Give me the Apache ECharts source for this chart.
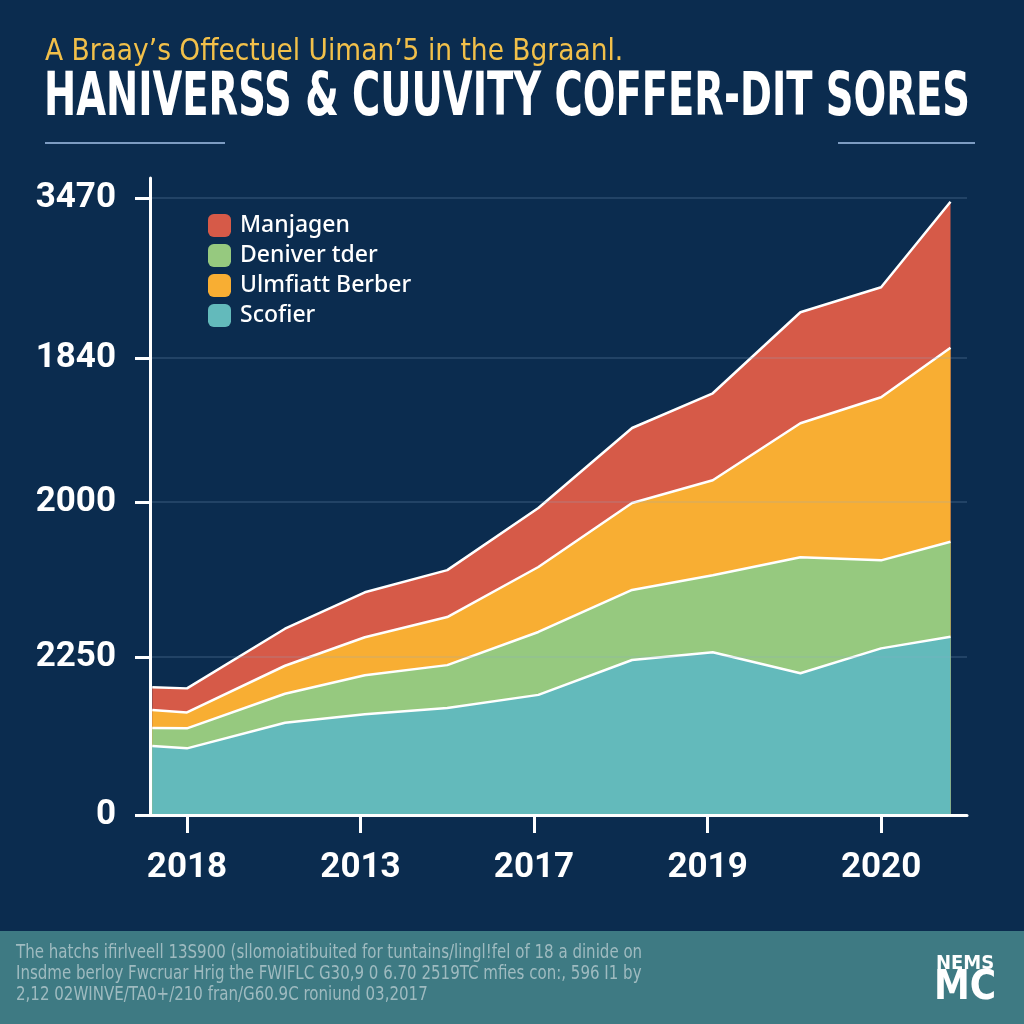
<!DOCTYPE html>
<html>
<head>
<meta charset="utf-8">
<script src="https://cdn.jsdelivr.net/npm/echarts@6/dist/echarts.min.js"></script>
<style>
html,body{margin:0;padding:0;background:#0B2C4F;}
#chart{width:1024px;height:1024px;}
</style>
</head>
<body>
<div id="chart"></div>
<script>
// ---- data ----
const xPositions = [0.6, 1, 2.13, 3.05, 4, 5.05, 6.13, 7.06, 8.07, 9, 9.8];
const xTickValues = [1, 3, 5, 7, 9];
const xTickLabels = ['2018', '2013', '2017', '2019', '2020'];
const yTickValues = [0, 1020, 2020, 2950, 3980];
const yTickLabels = ['0', '2250', '2000', '1840', '3470'];
const seriesNames = ['Scofier', 'Deniver tder', 'Ulmfiatt Berber', 'Manjagen']; // bottom -> top
const scofier   = [445, 430, 595, 650, 690, 775, 1000, 1050, 915, 1075, 1150];
const deniver   = [116, 129, 187, 252, 277, 406, 452, 497, 748, 568, 613];
const ulmfiatt  = [116, 103, 181, 245, 310, 419, 561, 613, 865, 1052, 1252];
const manjagen  = [148, 155, 239, 290, 303, 381, 484, 561, 716, 710, 942];
const legendOrder = ['Manjagen', 'Deniver tder', 'Ulmfiatt Berber', 'Scofier'];
const subtitleText = "A Braay\u2019s Offectuel Uiman\u20195 in the Bgraanl.";
const titleText = 'HANIVERSS & CUUVITY COFFER-DIT SORES';
const footerLines = [
  'The hatchs ifirlveell 13S900 (sllomoiatibuited for tuntains/lingl!fel of 18 a dinide on',
  'Insdme berloy Fwcruar Hrig the FWIFLC G30,9 0 6.70 2519TC mfies con:, 596 I1 by',
  '2,12 02WINVE/TA0+/210 fran/G60.9C roniund 03,2017'
];
const colors = ['#63BABB', '#96C97F', '#F8AE33', '#D65A48'];

const cond = '"DejaVu Sans Condensed", "DejaVu Sans", sans-serif';
const axisFont = 'Roboto, "Liberation Sans", sans-serif';

// stack the layers (bottom -> top) so each area is drawn from its cumulative top
const layers = [scofier, deniver, ulmfiatt, manjagen];
const cumulative = [];
layers.forEach((vals, i) => {
  cumulative.push(vals.map((v, j) => v + (i > 0 ? cumulative[i - 1][j] : 0)));
});

const series = [];
for (let i = layers.length - 1; i >= 0; i--) {
  series.push({
    name: seriesNames[i], type: 'line', symbol: 'none', smooth: false,
    data: cumulative[i].map((v, j) => [xPositions[j], v]),
    itemStyle: { color: colors[i] },
    lineStyle: { color: '#FFFFFF', width: 2.5 },
    areaStyle: { color: colors[i], opacity: 1 },
    z: 2
  });
}

const chart = echarts.init(document.getElementById('chart'), null, {renderer:'canvas'});
const option = {
  backgroundColor: '#0B2C4F',
  animation: false,
  legend: {
    data: legendOrder, orient: 'vertical', left: 203, top: 209,
    itemWidth: 23, itemHeight: 23, itemGap: 7, icon: 'roundRect',
    textStyle: { color: '#FFFFFF', fontSize: 23, fontFamily: '"Noto Sans", sans-serif', fontWeight: 500, padding:[0,0,0,4] }
  },
  grid: { left: 150, right: 57, top: 178, bottom: 209 },
  xAxis: {
    type: 'value', min: 0.574, max: 9.99, z: 10,
    axisLine: { show: true, lineStyle: { color: '#FFFFFF', width: 3 } },
    axisTick: { show: true, customValues: xTickValues, length: 18, lineStyle: { color: '#FFFFFF', width: 3 } },
    axisLabel: { customValues: xTickValues, margin: 36, color: '#FFFFFF', fontSize: 35, fontWeight: 'bold', fontFamily: axisFont,
      formatter: v => xTickLabels[xTickValues.indexOf(v)] },
    splitLine: { show: false }
  },
  yAxis: {
    type: 'value', min: 0, max: 4110, z: 10,
    axisLine: { show: true, lineStyle: { color: '#FFFFFF', width: 3 } },
    axisTick: { show: true, customValues: yTickValues, length: 15, lineStyle: { color: '#FFFFFF', width: 3 } },
    axisLabel: { customValues: yTickValues, margin: 34, color: '#FFFFFF', fontSize: 35, fontWeight: 'bold', fontFamily: axisFont,
      formatter: v => yTickLabels[yTickValues.indexOf(v)] },
    splitLine: { show: true, lineStyle: { color: 'rgba(140,170,205,0.25)', width: 1.5 } }
  },
  series: series,
  graphic: [
    { type: 'text', x: 45, y: 36, scaleX: 0.95, style: { text: subtitleText, fill: '#F2C04A', fontSize: 31, fontWeight: 'normal', fontFamily: cond } },
    { type: 'text', x: 44, y: 69, scaleX: 0.713, style: { text: titleText, fill: '#FFFFFF', fontSize: 60, fontWeight: 'bold', fontFamily: cond } },
    { type: 'line', shape: { x1: 45, y1: 143, x2: 225, y2: 143 }, style: { stroke: '#7D9CC2', lineWidth: 2 } },
    { type: 'line', shape: { x1: 838, y1: 143, x2: 975, y2: 143 }, style: { stroke: '#7D9CC2', lineWidth: 2 } },
    { type: 'rect', shape: { x: 0, y: 931, width: 1024, height: 93 }, style: { fill: '#3E7A83' }, z: -1 },
    { type: 'text', x: 16, y: 943, scaleX: 0.88, style: { text: footerLines.join('\n'), fill: '#9FBBC0', fontSize: 19, lineHeight: 21, fontFamily: cond } },
    { type: 'text', x: 936, y: 954, style: { text: 'NEMS', fill: '#FFFFFF', fontSize: 20, fontWeight: 'bold', fontFamily: cond } },
    { type: 'text', x: 934, y: 969, style: { text: 'MC', fill: '#FFFFFF', fontSize: 40, fontWeight: 'bold', fontFamily: cond } }
  ]
};
chart.setOption(option);
</script>
</body>
</html>
